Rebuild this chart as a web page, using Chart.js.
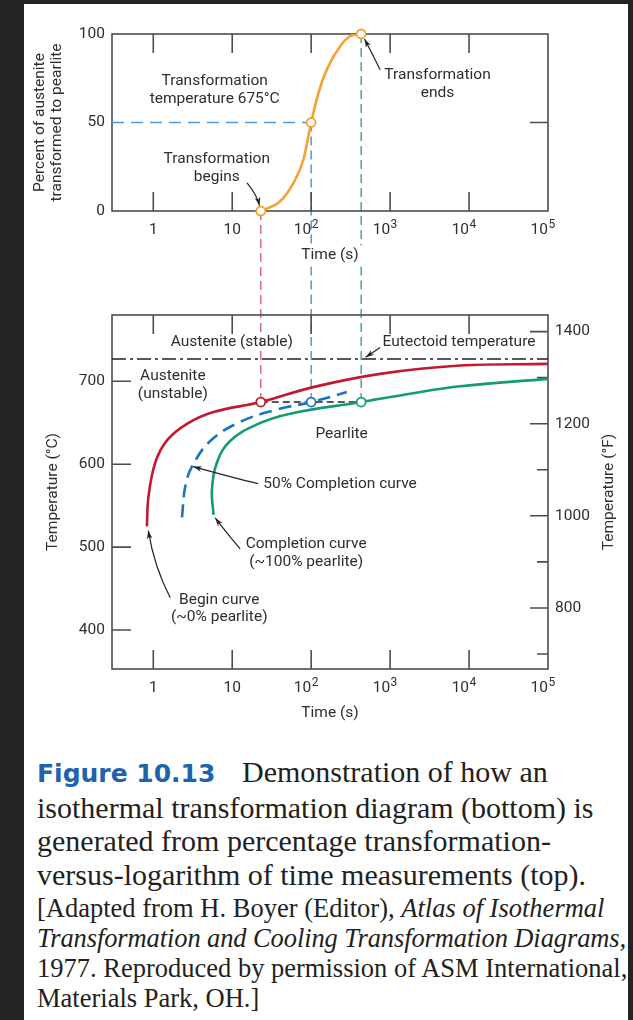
<!DOCTYPE html>
<html>
<head>
<meta charset="utf-8">
<script src="https://cdn.jsdelivr.net/npm/chart.js@4.4.1/dist/chart.umd.min.js"></script>
<style>
  html, body { margin: 0; padding: 0; background: #232323; }
  body { width: 633px; height: 1020px; position: relative; overflow: hidden; }
  #sheet { position: absolute; left: 24px; top: 4px; width: 604px; height: 1016px; background: #fff; }
  canvas { position: absolute; left: 0; }
  #top { top: 0; }
  #bottom { top: 300px; }
  .cap { position: absolute; left: 37px; color: #231f20; font-family: "Liberation Serif", serif; white-space: nowrap; }
  #capA { top: 755px; font-size: 30px; line-height: 33.7px; }
  #capB { top: 893px; font-size: 26.5px; line-height: 30px; }
  .fig { font-family: "DejaVu Sans", sans-serif; font-weight: bold; font-size: 25px; color: #1f63ad; display: inline-block; width: 205px; }
  .tight { letter-spacing: -0.1px; }
</style>
</head>
<body>
<div id="sheet"></div>
<canvas id="top" width="633" height="300"></canvas>
<canvas id="bottom" width="633" height="440"></canvas>
<div class="cap" id="capA"><span class="fig">Figure 10.13</span>Demonstration of how an<br>isothermal transformation diagram (bottom) is<br>generated from percentage transformation-<br>versus-logarithm of time measurements (top).</div>
<div class="cap" id="capB">[Adapted from H. Boyer (Editor), <i>Atlas of Isothermal</i><br><i class="tight">Transformation and Cooling Transformation Diagrams,</i><br>1977. Reproduced by permission of ASM International,<br>Materials Park, OH.]</div>
<script>
// time axis, seconds (log)
const timeTicks = [1, 10, 100, 1000, 10000, 100000];
const timeTickBase = ['1', '10', '10', '10', '10', '10'];
const timeTickPower = ['', '', '2', '3', '4', '5'];
const timeRange = [0.3, 100000];

// top: percent of austenite transformed at 675 °C
const percentTicks = [0, 50, 100];
const transformTemp = 675;
const beginTime = 23;
const halfTime = 100;
const endTime = 430;
const curveTime = [23, 40.5, 59.7, 79.8, 100, 123.7, 158, 233, 312, 430];
const curvePercent = [0, 5.5, 15.9, 29.1, 50, 66.8, 80, 93.1, 98.8, 100];

// bottom: isothermal transformation diagram
const tempRange = [353, 780];
const tempTicks = [400, 500, 600, 700];
const fahrenheitTicks = [700, 800, 900, 1000, 1100, 1200, 1300, 1400];
const fahrenheitLabeled = [800, 1000, 1200, 1400];
const eutectoidTemp = 727;
const beginCurveTime = [0.83, 0.87, 1.06, 1.5, 2.7, 5.8, 23, 106, 750, 7700, 100000];
const beginCurveTemp = [525, 561, 602, 629, 649, 663, 675, 693, 709, 719, 721];
const halfCurveTime = [2.31, 2.54, 3.09, 5.27, 12.6, 36.8, 100, 283];
const halfCurveTemp = [536, 573, 597, 628, 651, 666, 675, 687];
const endCurveTime = [5.8, 5.53, 6.4, 9.4, 20.5, 54, 430, 1340, 7700, 100000];
const endCurveTemp = [539, 569, 602, 628, 648, 661, 675, 683, 694, 703];

const RED = '#c3192c', BLUE = '#1b73c3', GREEN = '#139b74', ORANGE = '#f6a134';
const RED_LT = '#d2717a', BLUE_LT = '#4b9cd8', GREEN_LT = '#3fae88';
const ink = '#2e2e2e';
const family = 'Roboto, "Liberation Sans", sans-serif';
const fontSize = 15.5;

Chart.defaults.font.family = family;
Chart.defaults.font.size = fontSize;
Chart.defaults.color = ink;

const toF = c => c * 9 / 5 + 32;
const pts = (xs, ys) => xs.map((x, i) => ({x: x, y: ys[i]}));
const fixBox = (w, h) => s => {
    if (w) s.width = w;
    if (h) s.height = h;
    s.paddingTop = s.paddingBottom = s.paddingLeft = s.paddingRight = 0;
};
const setTicks = list => s => { s.ticks = list.map(v => ({value: v})); };

// box around the plot plus inward tick marks
const frame = {
    id: 'frame',
    beforeDatasetsDraw(chart, args, opts) {
        const {ctx, chartArea: a, scales} = chart;
        ctx.save();
        ctx.strokeStyle = '#4d4d4d';
        ctx.lineWidth = 1.6;
        ctx.strokeRect(a.left, a.top, a.right - a.left, a.bottom - a.top);
        ctx.beginPath();
        (opts.marks || []).forEach(m => {
            const s = scales[m.axis];
            m.values.forEach(v => {
                const p = s.getPixelForValue(v);
                m.sides.forEach(side => {
                    if (side === 'top') { ctx.moveTo(p, a.top); ctx.lineTo(p, a.top + m.len); }
                    if (side === 'bottom') { ctx.moveTo(p, a.bottom); ctx.lineTo(p, a.bottom - m.len); }
                    if (side === 'left') { ctx.moveTo(a.left, p); ctx.lineTo(a.left + m.len, p); }
                    if (side === 'right') { ctx.moveTo(a.right, p); ctx.lineTo(a.right - m.len, p); }
                });
            });
        });
        ctx.stroke();
        ctx.restore();
    }
};

// time labels as 10 with a raised power
const timeLabels = {
    id: 'timeLabels',
    afterDraw(chart) {
        const {ctx, chartArea: a, scales: {x}} = chart;
        const base = a.bottom + 22.5;
        ctx.save();
        ctx.fillStyle = ink;
        ctx.textBaseline = 'alphabetic';
        timeTicks.forEach((v, i) => {
            const px = x.getPixelForValue(v);
            ctx.font = fontSize + 'px ' + family;
            if (!timeTickPower[i]) {
                ctx.textAlign = 'center';
                ctx.fillText(timeTickBase[i], px, base);
                return;
            }
            ctx.textAlign = 'right';
            ctx.fillText(timeTickBase[i], px, base);
            ctx.font = '12px ' + family;
            ctx.textAlign = 'left';
            ctx.fillText(timeTickPower[i], px + 0.5, base - 6);
        });
        ctx.restore();
    }
};

// dashed drop lines joining the two plots
const guides = {
    id: 'guides',
    beforeDraw(chart, args, opts) {
        const {ctx, scales: {x, y}} = chart;
        // leave the axis title readable where a line crosses it
        let gap = null;
        if (opts.down) {
            ctx.save();
            ctx.font = fontSize + 'px ' + family;
            const w = ctx.measureText(x.options.title.text).width;
            ctx.restore();
            const cy = x.bottom - x.options.title.padding.bottom - fontSize * 0.55;
            const cx = (chart.chartArea.left + chart.chartArea.right) / 2;
            gap = {l: cx - w / 2 - 6, r: cx + w / 2 + 6, t: cy - 10, b: cy + 11};
        }
        ctx.save();
        ctx.lineWidth = 1.5;
        (opts.lines || []).forEach(g => {
            const px = x.getPixelForValue(g.t);
            const py = y.getPixelForValue(g.v);
            const end = opts.down ? chart.height : 0;
            ctx.strokeStyle = g.color;
            ctx.setLineDash([9, 5]);
            ctx.beginPath();
            ctx.moveTo(px, py);
            if (gap && px > gap.l && px < gap.r) {
                ctx.lineTo(px, gap.t);
                ctx.moveTo(px, gap.b);
            }
            ctx.lineTo(px, end);
            ctx.stroke();
        });
        ctx.restore();
    }
};

// text labels and curved arrows
const notes = {
    id: 'notes',
    afterDatasetsDraw(chart, args, opts) {
        const {ctx, chartArea: area, scales: {x, y}} = chart;
        const at = p => [x.getPixelForValue(p[0]), y.getPixelForValue(p[1])];
        ctx.save();
        ctx.fillStyle = ink;
        ctx.font = fontSize + 'px ' + family;
        ctx.textBaseline = 'middle';
        (opts.labels || []).forEach(n => {
            const [px, py] = at(n.at);
            const lines = [].concat(n.text);
            ctx.textAlign = n.align || 'center';
            lines.forEach((s, i) => ctx.fillText(s, px, py + (i - (lines.length - 1) / 2) * 17.5));
        });
        ctx.strokeStyle = '#222';
        ctx.fillStyle = '#222';
        ctx.lineWidth = 1.2;
        (opts.arrows || []).forEach(a => {
            const p0 = at(a.from), p2 = at(a.to);
            const m = a.via ? at(a.via) : [(p0[0] + p2[0]) / 2, (p0[1] + p2[1]) / 2];
            const c = [2 * m[0] - (p0[0] + p2[0]) / 2, 2 * m[1] - (p0[1] + p2[1]) / 2];
            ctx.beginPath();
            ctx.moveTo(p0[0], p0[1]);
            ctx.quadraticCurveTo(c[0], c[1], p2[0], p2[1]);
            ctx.stroke();
            const ang = Math.atan2(p2[1] - c[1], p2[0] - c[0]);
            ctx.beginPath();
            ctx.moveTo(p2[0], p2[1]);
            ctx.lineTo(p2[0] - 9 * Math.cos(ang - 0.32), p2[1] - 9 * Math.sin(ang - 0.32));
            ctx.lineTo(p2[0] - 6 * Math.cos(ang), p2[1] - 6 * Math.sin(ang));
            ctx.lineTo(p2[0] - 9 * Math.cos(ang + 0.32), p2[1] - 9 * Math.sin(ang + 0.32));
            ctx.closePath();
            ctx.fill();
        });
        if (opts.sideTitle) {
            // right axis title reads bottom to top like the left one
            ctx.fillStyle = ink;
            ctx.textAlign = 'center';
            ctx.translate(area.right + opts.sideTitle.offset, (area.top + area.bottom) / 2);
            ctx.rotate(-Math.PI / 2);
            ctx.fillText(opts.sideTitle.text, 0, 0);
        }
        ctx.restore();
    }
};

const timeAxis = (height, titlePad) => ({
    type: 'logarithmic',
    min: timeRange[0],
    max: timeRange[1],
    afterBuildTicks: setTicks(timeTicks),
    afterFit: fixBox(0, height),
    grid: {display: false, drawTicks: false},
    border: {display: false},
    ticks: {display: false},
    title: {display: true, text: 'Time (s)', font: {size: fontSize, lineHeight: 1.1}, padding: {top: 0, bottom: titlePad}}
});

const baseOptions = {
    responsive: false,
    animation: false,
    devicePixelRatio: 1,
    events: []
};

// percent transformed vs. log time
new Chart(document.getElementById('top'), {
    type: 'line',
    data: {
        datasets: [
            {
                data: [{x: beginTime, y: 0}, {x: halfTime, y: 50}, {x: endTime, y: 100}],
                showLine: false,
                pointRadius: 4.5,
                pointBorderWidth: 1.8,
                pointBorderColor: ORANGE,
                pointBackgroundColor: '#fff',
                clip: false
            },
            {
                data: pts(curveTime, curvePercent),
                borderColor: ORANGE,
                borderWidth: 2.6,
                pointRadius: 0,
                cubicInterpolationMode: 'monotone'
            },
            {
                data: [{x: timeRange[0], y: 50}, {x: halfTime, y: 50}],
                borderColor: BLUE_LT,
                borderWidth: 1.5,
                borderDash: [12, 7],
                pointRadius: 0
            }
        ]
    },
    options: Object.assign({}, baseOptions, {
        layout: {padding: {top: 34, right: 85, left: 0, bottom: 0}},
        plugins: {
            legend: {display: false},
            tooltip: {enabled: false},
            frame: {marks: [
                {axis: 'x', values: timeTicks.slice(0, 5), sides: ['top', 'bottom'], len: 19},
                {axis: 'y', values: [50], sides: ['right'], len: 18}
            ]},
            guides: {down: true, lines: [
                {t: beginTime, v: 0, color: RED_LT},
                {t: halfTime, v: 50, color: BLUE_LT},
                {t: endTime, v: 100, color: GREEN_LT}
            ]},
            notes: {
                labels: [
                    {text: ['Transformation', 'temperature 675°C'], at: [6.0, 68.3]},
                    {text: ['Transformation', 'begins'], at: [6.37, 24.3]},
                    {text: ['Transformation', 'ends'], at: [3990, 71.6]}
                ],
                arrows: [
                    {from: [15.4, 15.9], via: [19.5, 9.3], to: [22.2, 3.1]},
                    {from: [747, 79.8], via: [587, 89.2], to: [473, 97.2]}
                ]
            }
        },
        scales: {
            x: timeAxis(89, 36),
            y: {
                min: 0,
                max: 100,
                afterBuildTicks: setTicks(percentTicks),
                afterFit: fixBox(112, 0),
                grid: {display: false, drawTicks: false},
                border: {display: false},
                ticks: {padding: 7},
                title: {
                    display: true,
                    text: ['Percent of austenite', 'transformed to pearlite'],
                    font: {size: fontSize, lineHeight: 1.1},
                    padding: {top: 31.5, bottom: 0}
                }
            }
        }
    }),
    plugins: [frame, guides, notes, timeLabels]
});

// isothermal transformation diagram
new Chart(document.getElementById('bottom'), {
    type: 'line',
    data: {
        datasets: [
            {
                data: [{x: beginTime, y: transformTemp}, {x: halfTime, y: transformTemp}, {x: endTime, y: transformTemp}],
                showLine: false,
                pointRadius: 4.5,
                pointBorderWidth: 1.8,
                pointBorderColor: [RED, BLUE, GREEN],
                pointBackgroundColor: '#fff',
                clip: false
            },
            {data: pts(beginCurveTime, beginCurveTemp), borderColor: RED, borderWidth: 2.6, pointRadius: 0, tension: 0.4},
            {data: pts(halfCurveTime, halfCurveTemp), borderColor: BLUE, borderWidth: 2.6, borderDash: [13, 7], pointRadius: 0, tension: 0.4},
            {data: pts(endCurveTime, endCurveTemp), borderColor: GREEN, borderWidth: 2.6, pointRadius: 0, tension: 0.4},
            {
                data: [{x: beginTime, y: transformTemp}, {x: endTime, y: transformTemp}],
                borderColor: '#222',
                borderWidth: 1.5,
                borderDash: [7, 4],
                pointRadius: 0
            },
            {
                data: [{x: timeRange[0], y: eutectoidTemp}, {x: timeRange[1], y: eutectoidTemp}],
                borderColor: '#222',
                borderWidth: 1.5,
                borderDash: [14, 4, 3, 4],
                pointRadius: 0
            }
        ]
    },
    options: Object.assign({}, baseOptions, {
        layout: {padding: {top: 15, right: 0, left: 0, bottom: 0}},
        plugins: {
            legend: {display: false},
            tooltip: {enabled: false},
            frame: {marks: [
                {axis: 'x', values: timeTicks.slice(0, 5), sides: ['top', 'bottom'], len: 19},
                {axis: 'y', values: tempTicks, sides: ['left'], len: 19},
                {axis: 'yF', values: fahrenheitLabeled, sides: ['right'], len: 18},
                {axis: 'yF', values: fahrenheitTicks.filter(v => !fahrenheitLabeled.includes(v)), sides: ['right'], len: 11}
            ]},
            guides: {down: false, lines: [
                {t: beginTime, v: transformTemp, color: RED_LT},
                {t: halfTime, v: transformTemp, color: BLUE_LT},
                {t: endTime, v: transformTemp, color: GREEN_LT}
            ]},
            notes: {
                labels: [
                    {text: 'Austenite (stable)', at: [9.86, 746.7]},
                    {text: ['Austenite', '(unstable)'], at: [1.77, 695.4]},
                    {text: 'Eutectoid temperature', at: [7470, 746.7]},
                    {text: 'Pearlite', at: [243, 636.9]},
                    {text: '50% Completion curve', at: [24.7, 575.4], align: 'left'},
                    {text: ['Completion curve', '(~100% pearlite)'], at: [86.4, 492.7]},
                    {text: ['Begin curve', '(~0% pearlite)'], at: [6.85, 425.8]}
                ],
                arrows: [
                    {from: [747, 740.7], to: [490, 729]},
                    {from: [21.3, 576.6], via: [9.43, 585], to: [3.21, 597.1]},
                    {from: [12.6, 497.8], via: [8.57, 517.1], to: [6.09, 535.2]},
                    {from: [1.64, 439], via: [1.107, 477.7], to: [0.864, 520]}
                ],
                sideTitle: {text: 'Temperature (°F)', offset: 61}
            }
        },
        scales: {
            x: timeAxis(71, 18),
            y: {
                position: 'left',
                min: tempRange[0],
                max: tempRange[1],
                afterBuildTicks: setTicks(tempTicks),
                afterFit: fixBox(112, 0),
                grid: {display: false, drawTicks: false},
                border: {display: false},
                ticks: {padding: 7},
                title: {display: true, text: 'Temperature (°C)', font: {size: fontSize, lineHeight: 1.1}, padding: {top: 44.5, bottom: 0}}
            },
            yF: {
                position: 'right',
                min: toF(tempRange[0]),
                max: toF(tempRange[1]),
                afterBuildTicks: setTicks(fahrenheitTicks),
                afterFit: fixBox(85, 0),
                grid: {display: false, drawTicks: false},
                border: {display: false},
                ticks: {padding: 7, callback: v => fahrenheitLabeled.includes(v) ? String(v) : ''}
            }
        }
    }),
    plugins: [frame, guides, notes, timeLabels]
});
</script>
</body>
</html>
